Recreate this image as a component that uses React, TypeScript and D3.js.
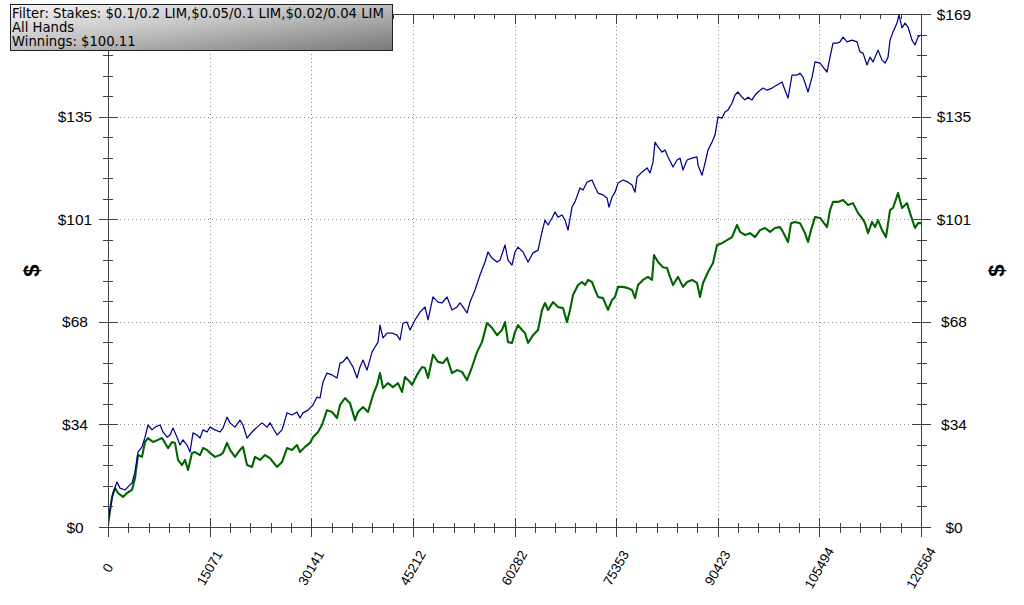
import React from 'react';
import * as d3 from 'd3';

// ---------- data ----------
const X_MAX = 120564;
const Y_MAX = 169;
const X_DIVISIONS = 8;
const Y_DIVISIONS = 5;
const MINOR_PER_MAJOR = 5;

const LEGEND_LINES = [
  'Filter: Stakes: $0.1/0.2 LIM,$0.05/0.1 LIM,$0.02/0.04 LIM',
  'All Hands',
  'Winnings: $100.11',
];
const Y_TITLE = '$';

// [hands, dollars]
const BLUE_SERIES: [number, number][] = [
  [0,1.6],[742,11.2],[1335,14.8],[1780,12.8],[2521,12.2],[2966,13.2],[3559,14.5],[4004,18.1],[4449,24.7],[5042,26.4],
  [5487,29.6],[5932,33.6],[6525,32.0],[6970,32.9],[7712,33.6],[8157,31.3],[8750,29.6],[9195,30.3],[9640,32.6],[10233,29.6],
  [10678,27.0],[11123,28.7],[11716,27.0],[12161,24.7],[12606,31.0],[13199,30.3],[13644,29.3],[14089,32.0],[14682,31.3],[15127,32.9],
  [15868,32.0],[16610,31.3],[17055,32.6],[17648,36.2],[18093,34.3],[18834,32.9],[19576,35.2],[20021,33.6],[20614,29.3],[21355,31.3],
  [22097,32.9],[22838,34.3],[23580,32.9],[24025,34.3],[24470,32.6],[25063,30.3],[25804,32.0],[26546,37.6],[27287,36.9],[28029,37.9],
  [28474,35.9],[28919,37.6],[29660,38.5],[30402,40.2],[30995,42.8],[31440,42.5],[31885,47.8],[32478,50.7],[33219,50.1],[33961,49.1],
  [34406,54.0],[34851,54.4],[35444,56.0],[35889,54.4],[36334,52.7],[36927,49.1],[37372,52.7],[37817,55.0],[38410,51.7],[39151,57.6],
  [39596,59.3],[40041,60.9],[40338,66.5],[40783,62.3],[41376,63.9],[42117,63.9],[42859,63.2],[43304,61.6],[43749,67.2],[44342,67.5],
  [44787,64.9],[45528,68.2],[46270,70.8],[47011,72.5],[47456,68.2],[48198,75.8],[48939,74.1],[49532,73.8],[50274,75.8],[51015,71.5],
  [51757,72.5],[52202,73.8],[52647,72.5],[53240,70.5],[53685,74.1],[54426,78.1],[55168,83.0],[55909,87.3],[56354,90.6],[56947,88.6],
  [57689,87.3],[58134,87.9],[58875,92.9],[59320,87.9],[59913,86.3],[60358,90.6],[60803,92.2],[61545,90.6],[62286,87.3],[63028,90.3],
  [63769,91.2],[64362,97.2],[64807,101.1],[65252,99.5],[65845,101.8],[66290,103.8],[66735,102.1],[67328,102.8],[67773,101.1],[68218,97.8],
  [68811,105.4],[69256,107.1],[69998,111.7],[70443,111.0],[71036,113.6],[71777,114.3],[72222,112.0],[72667,110.0],[73409,109.4],[74002,108.4],
  [74298,105.4],[74743,108.7],[75188,110.3],[75633,113.3],[76375,114.3],[77116,113.6],[77709,112.7],[78154,110.3],[78451,115.3],[79192,116.9],
  [79934,118.3],[80379,116.6],[80824,120.2],[81120,126.8],[81565,125.2],[82158,123.5],[82603,124.2],[83048,121.9],[83790,118.6],[84383,120.9],
  [84828,121.5],[85273,117.6],[85866,120.9],[86607,121.5],[87349,121.9],[87497,119.2],[88090,115.9],[88535,119.9],[88980,124.2],[89573,126.8],
  [90018,129.1],[90463,135.1],[91056,134.7],[91501,136.7],[91946,137.4],[92539,139.7],[92984,142.3],[93429,143.3],[94022,141.6],[94467,140.7],
  [94912,141.6],[95505,140.7],[95950,142.3],[96395,143.3],[97137,144.6],[97730,143.9],[98471,144.6],[99213,145.6],[99954,146.6],[100399,143.9],
  [100844,141.3],[101437,148.9],[102179,148.9],[102624,149.5],[103069,148.2],[103810,143.3],[104403,148.2],[104848,153.2],[105590,152.8],[106035,151.5],
  [106628,149.9],[107073,154.8],[107518,159.4],[108111,159.4],[108556,159.8],[109001,161.4],[109594,159.8],[110335,160.4],[111077,159.8],[111522,156.5],
  [111967,156.1],[112560,152.2],[113005,154.8],[113450,153.2],[114191,157.1],[114784,153.8],[115229,152.8],[115674,154.8],[115971,160.4],[116416,163.1],
  [117009,166.0],[117305,168.7],[117750,164.4],[118195,166.0],[118640,164.7],[119233,160.4],[119678,158.8],[120123,161.4],[120564,162.1],
];

const GREEN_SERIES: [number, number][] = [
  [0,0.7],[593,9.9],[1038,12.8],[1483,11.2],[2225,9.9],[2818,11.2],[3559,12.2],[4004,16.1],[4449,23.7],[5042,23.1],
  [5487,28.0],[5932,29.3],[6674,28.0],[7415,28.7],[8008,29.3],[8453,27.7],[8898,26.0],[9491,28.0],[9936,27.7],[10381,22.1],
  [10974,20.4],[11419,22.1],[11864,18.8],[12457,24.4],[12902,24.7],[13644,23.7],[14089,26.0],[14682,25.4],[15127,24.4],[15868,23.1],
  [16610,23.7],[17055,24.4],[17648,27.7],[18093,25.4],[18834,23.1],[19576,25.4],[20021,26.4],[20614,20.4],[21355,19.8],[21800,23.1],
  [22542,22.1],[23283,23.7],[24025,22.7],[24470,21.4],[25063,19.8],[25804,21.4],[26546,26.0],[27287,25.4],[28029,27.0],[28474,24.7],
  [29215,26.4],[29957,27.7],[30402,29.6],[31143,31.3],[31736,33.6],[32478,38.5],[33219,37.9],[33961,35.9],[34406,40.2],[35147,42.5],
  [35889,40.8],[36630,35.2],[37075,37.9],[37817,39.5],[38558,37.9],[39300,43.5],[39893,46.8],[40338,50.7],[40783,45.8],[41524,47.4],
  [42266,46.1],[43007,47.4],[43600,44.5],[44045,49.4],[44787,47.8],[45083,46.8],[45825,50.1],[46566,52.7],[47011,52.4],[47456,49.1],
  [48198,56.7],[48939,54.4],[49681,54.0],[50274,55.7],[51015,50.7],[51757,51.7],[52498,51.1],[53240,48.4],[53981,52.7],[54723,57.6],
  [55464,60.9],[56206,67.2],[56947,65.6],[57689,63.2],[58430,64.9],[58875,67.5],[59320,60.9],[59913,60.6],[60358,64.2],[60803,66.5],
  [61396,64.9],[61841,63.9],[62286,60.6],[63028,63.2],[63769,64.9],[64362,71.5],[64807,73.8],[65252,71.5],[65994,74.1],[66735,72.5],
  [67477,72.1],[68070,67.5],[68515,71.5],[68960,76.4],[69701,79.7],[70294,80.7],[70739,79.7],[71184,81.4],[71777,80.7],[72222,78.1],
  [72667,75.8],[73409,75.4],[74150,71.5],[74743,74.8],[75188,75.8],[75633,79.1],[76375,79.1],[77116,78.7],[77709,78.1],[78154,75.4],
  [78599,79.7],[79341,81.4],[80082,82.4],[80675,81.4],[80972,89.6],[81565,87.3],[82307,85.6],[82900,85.3],[83345,82.4],[83790,79.7],
  [84531,82.4],[85273,79.1],[85866,80.7],[86607,81.4],[87349,80.4],[87794,75.8],[88239,80.4],[88980,84.0],[89722,87.0],[90315,92.9],
  [91056,93.5],[91798,94.5],[92539,95.5],[93281,99.5],[93726,97.2],[94467,96.2],[95209,96.8],[95950,95.5],[96692,97.8],[97433,98.5],
  [98175,97.2],[98916,98.5],[99658,98.8],[100103,97.2],[100844,93.9],[101289,100.1],[101882,100.5],[102624,100.1],[103365,96.8],[103810,93.9],
  [104255,97.8],[104848,102.1],[105590,101.8],[106035,100.5],[106628,98.8],[107073,104.4],[107518,107.1],[108259,107.1],[109001,107.7],[109742,106.1],
  [110484,106.7],[111225,103.4],[111818,101.8],[112263,100.1],[112708,96.8],[113301,100.5],[113746,98.8],[114191,101.1],[114784,97.8],[115377,95.5],
  [115971,104.4],[116416,105.1],[117157,110.0],[117750,105.1],[118492,106.7],[118937,103.4],[119678,98.5],[120123,100.1],[120564,100.11],
];

// ---------- layout ----------
const W = 1024;
const H = 605;
const PLOT = { left: 108, right: 921, top: 14, bottom: 527 };
const AXIS_COLOR = '#404040';
const GRID_COLOR = '#8c8c8c';
const LABEL_FONT = '"Liberation Sans", Arial, sans-serif';
const LEGEND_BOX = { x: 10.5, y: 4.5, w: 382, h: 46 };

export default function App() {
  const x = d3.scaleLinear().domain([0, X_MAX]).range([PLOT.left, PLOT.right]);
  const y = d3.scaleLinear().domain([0, Y_MAX]).range([PLOT.bottom, PLOT.top]);

  const xMajor = d3.range(X_DIVISIONS + 1).map((i) => (i * X_MAX) / X_DIVISIONS);
  const xMinor = d3
    .range(X_DIVISIONS * MINOR_PER_MAJOR + 1)
    .filter((i) => i % MINOR_PER_MAJOR !== 0)
    .map((i) => (i * X_MAX) / (X_DIVISIONS * MINOR_PER_MAJOR));
  const yMajor = d3.range(Y_DIVISIONS + 1).map((i) => (i * Y_MAX) / Y_DIVISIONS);
  const yMinor = d3
    .range(Y_DIVISIONS * MINOR_PER_MAJOR + 1)
    .filter((i) => i % MINOR_PER_MAJOR !== 0)
    .map((i) => (i * Y_MAX) / (Y_DIVISIONS * MINOR_PER_MAJOR));

  // the left-hand top label sits under the legend box in the reference, so it is not visible
  const leftLabels = yMajor.filter((v) => y(v) > LEGEND_BOX.y + LEGEND_BOX.h + 4);

  const line = d3
    .line<[number, number]>()
    .x((d) => x(d[0]))
    .y((d) => y(d[1]));

  const px = (v: number) => Math.round(v) + 0.5;

  return (
    <div style={{ position: 'absolute', left: 0, top: 0 }}>
      <svg width={W} height={H} style={{ display: 'block', background: '#fff' }}>
        <defs>
          <linearGradient id="legendGrad" x1="0" y1="0" x2="1" y2="1">
            <stop offset="0" stopColor="#f6f6f6" />
            <stop offset="0.45" stopColor="#c4c4c4" />
            <stop offset="1" stopColor="#787878" />
          </linearGradient>
          <clipPath id="plotClip">
            <rect x={PLOT.left} y={PLOT.top - 2} width={PLOT.right - PLOT.left} height={PLOT.bottom - PLOT.top + 4} />
          </clipPath>
        </defs>

        {/* grid */}
        <g stroke={GRID_COLOR} strokeWidth={1} strokeDasharray="1,3" shapeRendering="crispEdges">
          {xMajor.slice(1, -1).map((v) => (
            <line key={'gx' + v} x1={px(x(v))} x2={px(x(v))} y1={PLOT.top} y2={PLOT.bottom} />
          ))}
          {yMajor.slice(1, -1).map((v) => (
            <line key={'gy' + v} x1={PLOT.left} x2={PLOT.right} y1={px(y(v))} y2={px(y(v))} />
          ))}
        </g>

        {/* series */}
        <g clipPath="url(#plotClip)" fill="none" strokeLinejoin="round">
          <path d={line(GREEN_SERIES) || ''} stroke="#006400" strokeWidth={2.1} />
          <path d={line(BLUE_SERIES) || ''} stroke="#00008b" strokeWidth={1.25} />
        </g>

        {/* axes */}
        <g stroke={AXIS_COLOR} strokeWidth={1} shapeRendering="crispEdges">
          <line x1={px(PLOT.left)} x2={px(PLOT.left)} y1={PLOT.top} y2={PLOT.bottom + 1} />
          <line x1={px(PLOT.right)} x2={px(PLOT.right)} y1={PLOT.top} y2={PLOT.bottom + 1} />
          <line x1={PLOT.left} x2={PLOT.right + 1} y1={px(PLOT.bottom)} y2={px(PLOT.bottom)} />
          <line x1={PLOT.left} x2={PLOT.right + 1} y1={px(PLOT.top)} y2={px(PLOT.top)} />

          {xMajor.map((v) => (
            <line key={'bx' + v} x1={px(x(v))} x2={px(x(v))} y1={PLOT.bottom - 9} y2={PLOT.bottom + 10} />
          ))}
          {xMinor.map((v) => (
            <line key={'bm' + v} x1={px(x(v))} x2={px(x(v))} y1={PLOT.bottom - 4} y2={PLOT.bottom + 6} />
          ))}
          {xMajor.map((v) => (
            <line key={'tx' + v} x1={px(x(v))} x2={px(x(v))} y1={PLOT.top} y2={PLOT.top + 10} />
          ))}
          {xMinor.map((v) => (
            <line key={'tm' + v} x1={px(x(v))} x2={px(x(v))} y1={PLOT.top} y2={PLOT.top + 5} />
          ))}
          {yMajor.map((v) => (
            <line key={'ly' + v} x1={PLOT.left - 9} x2={PLOT.left + 10} y1={px(y(v))} y2={px(y(v))} />
          ))}
          {yMinor.map((v) => (
            <line key={'lm' + v} x1={PLOT.left - 5} x2={PLOT.left + 5} y1={px(y(v))} y2={px(y(v))} />
          ))}
          {yMajor.map((v) => (
            <line key={'ry' + v} x1={PLOT.right - 9} x2={PLOT.right + 10} y1={px(y(v))} y2={px(y(v))} />
          ))}
          {yMinor.map((v) => (
            <line key={'rm' + v} x1={PLOT.right - 4} x2={PLOT.right + 6} y1={px(y(v))} y2={px(y(v))} />
          ))}
        </g>

        {/* y tick labels */}
        <g fontFamily={LABEL_FONT} fontSize={15.5} fill="#000" textAnchor="middle">
          {leftLabels.map((v) => (
            <text key={'yl' + v} x={75} y={y(v)} dominantBaseline="central">
              {'$' + Math.round(v)}
            </text>
          ))}
          {yMajor.map((v) => (
            <text key={'yr' + v} x={954} y={y(v)} dominantBaseline="central">
              {'$' + Math.round(v)}
            </text>
          ))}
        </g>

        {/* x tick labels */}
        <g fontFamily={LABEL_FONT} fontSize={13.5} fill="#000" textAnchor="middle">
          {xMajor.map((v) => (
            <text
              key={'xl' + v}
              transform={`translate(${x(v)},568) rotate(-60)`}
              dominantBaseline="central"
            >
              {String(Math.round(v))}
            </text>
          ))}
        </g>

        {/* axis titles */}
        <g fontFamily={LABEL_FONT} fontSize={22} fontWeight="bold" fill="#000" textAnchor="middle">
          <text transform={`translate(31,${(PLOT.top + PLOT.bottom) / 2}) rotate(-90)`} dominantBaseline="central">
            {Y_TITLE}
          </text>
          <text transform={`translate(996,${(PLOT.top + PLOT.bottom) / 2}) rotate(-90)`} dominantBaseline="central">
            {Y_TITLE}
          </text>
        </g>

        {/* legend box */}
        <g>
          <rect
            x={LEGEND_BOX.x}
            y={LEGEND_BOX.y}
            width={LEGEND_BOX.w}
            height={LEGEND_BOX.h}
            fill="url(#legendGrad)"
            stroke="#202020"
            strokeWidth={1}
          />
          <g fontFamily='"DejaVu Sans", Verdana, sans-serif' fontSize={13.2} fill="#000">
            {LEGEND_LINES.map((t, i) => (
              <text key={'lg' + i} x={12} y={18.3 + i * 13.7}>
                {t}
              </text>
            ))}
          </g>
        </g>
      </svg>
    </div>
  );
}
